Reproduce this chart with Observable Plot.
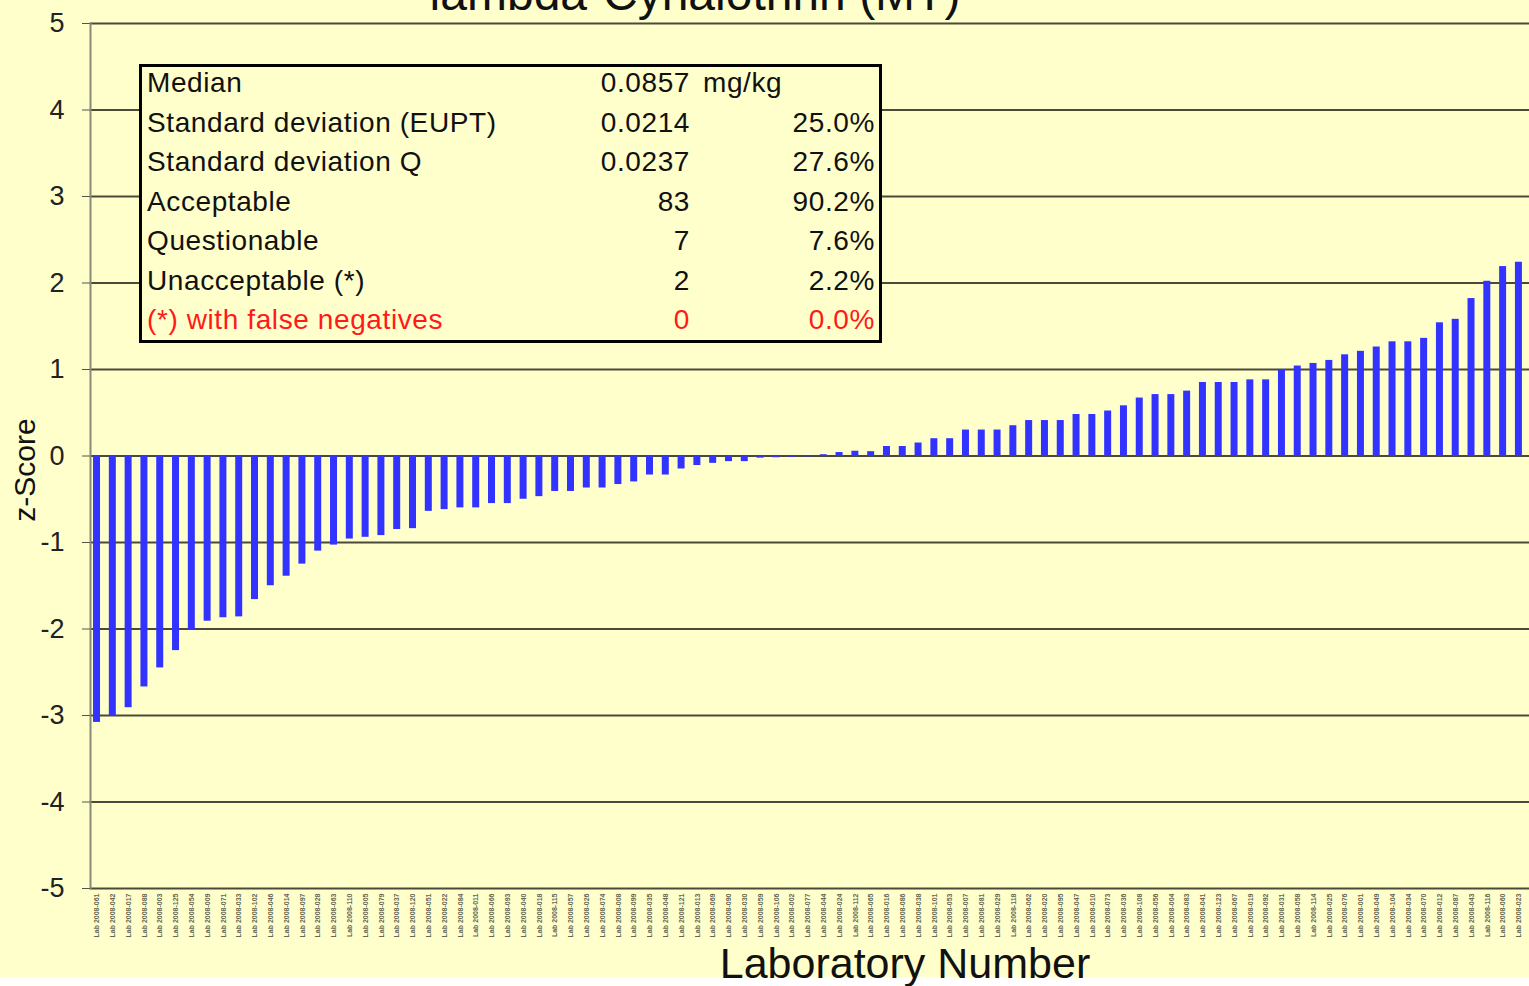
<!DOCTYPE html>
<html>
<head>
<meta charset="utf-8">
<script src="https://cdn.jsdelivr.net/npm/d3@7"></script>
<script src="https://cdn.jsdelivr.net/npm/@observablehq/plot@0.6"></script>
<style>
  html, body { margin: 0; padding: 0; background: #ffffff; }
  #wrap {
    position: relative; width: 1529px; height: 986px; overflow: hidden;
    background: linear-gradient(to bottom, #ffffcc 0px, #ffffcc 977px, #ffffff 977px);
    font-family: "Liberation Sans", Arial, sans-serif;
  }
  #wrap svg { position: absolute; left: 0; top: 0; }
  #statbox {
    position: absolute; left: 139px; top: 64px; width: 743px; height: 279px;
    box-sizing: border-box; border: 3px solid #000; background: #ffffcc;
  }
  .st { position: absolute; font-size: 28px; line-height: 28px; letter-spacing: 0.6px; white-space: nowrap; color: #111; }
</style>
</head>
<body>
<div id="wrap"><div id="statbox"></div></div>
<script>
// ---- data ----
const chartTitle = "lambda-Cyhalothrin (MT)";
const xTitle = "Laboratory Number";
const yTitle = "z-Score";
const yTicks = [-5, -4, -3, -2, -1, 0, 1, 2, 3, 4, 5];

const labs = [
  "061","042","017","088","003","125","054","009","071","033",
  "102","046","014","097","028","063","110","005","079","037",
  "120","051","022","084","011","066","093","040","018","115",
  "057","026","074","008","099","035","048","121","013","069",
  "090","030","059","106","002","077","044","024","112","065",
  "016","086","038","101","053","007","081","029","118","062",
  "020","095","047","010","073","036","108","056","004","083",
  "041","123","067","019","092","031","058","114","025","076",
  "001","049","104","034","070","012","087","043","116","060",
  "023"
];

const zScores = [
  -3.08, -3.01, -2.91, -2.67, -2.45, -2.25, -2.01, -1.91, -1.87, -1.86,
  -1.66, -1.50, -1.39, -1.25, -1.10, -1.03, -0.96, -0.94, -0.92, -0.85,
  -0.84, -0.64, -0.62, -0.60, -0.60, -0.55, -0.55, -0.50, -0.47, -0.41,
  -0.41, -0.37, -0.37, -0.33, -0.30, -0.22, -0.22, -0.15, -0.11, -0.085,
  -0.065, -0.065, -0.025, -0.02, -0.015, -0.01, 0.015, 0.04, 0.055, 0.05,
  0.11, 0.11, 0.15, 0.20, 0.20, 0.30, 0.30, 0.30, 0.35, 0.41,
  0.41, 0.41, 0.48, 0.48, 0.52, 0.58, 0.67, 0.71, 0.71, 0.75,
  0.85, 0.85, 0.85, 0.88, 0.88, 1.00, 1.04, 1.07, 1.105, 1.17,
  1.21, 1.26, 1.32, 1.32, 1.36, 1.54, 1.58, 1.82, 2.02, 2.19,
  2.24
];

const statLabels = ["Median", "Standard deviation (EUPT)", "Standard deviation Q",
  "Acceptable", "Questionable", "Unacceptable (*)", "(*) with false negatives"];
const statValues = ["0.0857", "0.0214", "0.0237", "83", "7", "2", "0"];
const statUnits = ["mg/kg", "", "", "", "", "", ""];
const statPercents = ["", "25.0%", "27.6%", "90.2%", "7.6%", "2.2%", "0.0%"];
const statRed = [false, false, false, false, false, false, true];

// ---- chart ----
const data = labs.map((lab, i) => ({lab, z: zScores[i]}));

const chart = Plot.plot({
  width: 1529,
  height: 986,
  marginTop: 23,
  marginBottom: 98,
  marginLeft: 90,
  marginRight: 0,
  style: {background: "transparent", fontFamily: "'Liberation Sans', Arial, sans-serif", overflow: "visible"},
  x: {domain: labs, paddingInner: 0.557, paddingOuter: 0.32, align: 0.3, axis: null},
  y: {domain: [-5, 5], axis: null},
  marks: [
    Plot.ruleY(yTicks, {stroke: "#4a4a3a", strokeWidth: 1.8}),
    Plot.frame({anchor: "left", stroke: "#8a8a7a", strokeWidth: 2}),
    Plot.barY(data, {x: "lab", y: "z", fill: "#3333ff"}),
    Plot.axisY({ticks: yTicks, tickSize: 8, tickPadding: 18, fontSize: 27, label: null,
      stroke: "#555544", color: "#222", tickFormat: d => String(d)}),
    Plot.axisX({tickRotate: -90, fontSize: 7, fontWeight: "bold", tickSize: 0, tickPadding: 5, label: null,
      color: "#666655", tickFormat: d => `Lab 2008-${d}`}),
    Plot.text([chartTitle], {frameAnchor: "top", dx: -115, dy: -29, fontSize: 48, fill: "#111", lineAnchor: "middle"}),
    Plot.text([xTitle], {frameAnchor: "bottom", dx: 95, dy: 76, fontSize: 43, fill: "#111", lineAnchor: "middle"}),
    Plot.text([yTitle], {frameAnchor: "left", dx: -65, dy: 14, rotate: -90, fontSize: 30, fill: "#111",
      textAnchor: "middle", lineAnchor: "middle"})
  ]
});
document.getElementById("wrap").prepend(chart);

// ---- stats box (annotation) ----
const box = document.getElementById("statbox");
const boxLeft = 139, boxTop = 64;
const rowCenters0 = 83, rowStep = 39.5;
statLabels.forEach((lbl, i) => {
  const cy = rowCenters0 + i * rowStep - boxTop;
  const col = statRed[i] ? "#ff1a1a" : "#111";
  const add = (text, style) => {
    if (!text) return;
    const s = document.createElement("span");
    s.className = "st";
    s.textContent = text;
    s.style.top = (cy - 14 - 3) + "px";
    s.style.color = col;
    Object.assign(s.style, style);
    box.appendChild(s);
  };
  add(lbl, {left: (147 - boxLeft - 3) + "px"});
  add(statValues[i], {right: (boxLeft + 743 - 690 - 3) + "px"});
  add(statUnits[i], {left: (703 - boxLeft - 3) + "px"});
  add(statPercents[i], {right: (boxLeft + 743 - 875 - 3) + "px"});
});
</script>
</body>
</html>
